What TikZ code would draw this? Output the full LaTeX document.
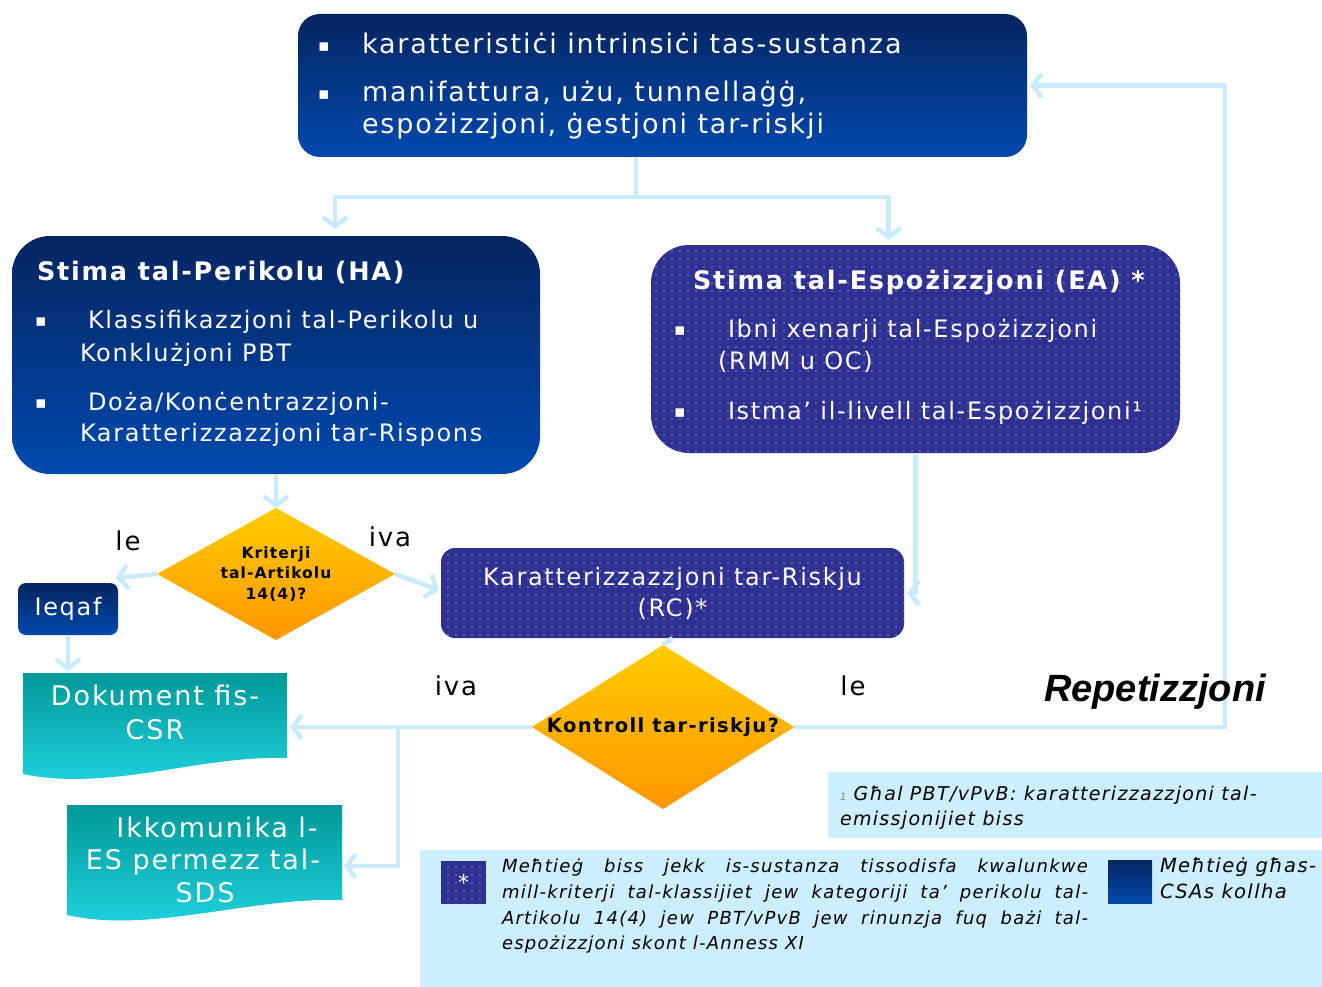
\documentclass[tikz,border=0pt]{standalone}
\usepackage{fontspec}
\setmainfont{DejaVu Sans}[LetterSpace=7]
\newfontfamily\repfont{Liberation Sans}
\usetikzlibrary{shapes.geometric,arrows.meta,patterns.meta,calc}
\definecolor{navyTop}{HTML}{062560}
\definecolor{navyBot}{HTML}{0049AE}
\definecolor{indigo}{HTML}{2E3192}
\definecolor{dotc}{HTML}{8C8FD0}
\definecolor{yel}{HTML}{FFCC00}
\definecolor{ora}{HTML}{FF9600}
\definecolor{tealTop}{HTML}{009898}
\definecolor{tealBot}{HTML}{22D6E2}
\definecolor{lblue}{HTML}{C8EBFF}
\definecolor{note}{HTML}{CCEEFF}
\pgfdeclarepattern{
  name=sparsedots,
  type=uncolored,
  bottom left={\pgfpoint{-1pt}{-1pt}},
  top right={\pgfpoint{7pt}{7pt}},
  tile size={\pgfpoint{8pt}{8pt}},
  code={\pgfpathcircle{\pgfpoint{0pt}{0pt}}{0.8pt}\pgfusepath{fill}}
}
\tikzset{
  every node/.style={inner sep=0pt, outer sep=0pt},
  navybox/.style={top color=navyTop, bottom color=navyBot, draw=none},
  dotbox/.style={preaction={fill=indigo}, pattern=sparsedots, pattern color=dotc},
  decision/.style={diamond, top color=yel, bottom color=ora, draw=none, align=center},
  conn/.style={draw=lblue, line width=4.5pt},
  arr/.style={conn, -{Straight Barb[length=9pt,width=24pt]}},
  wt/.style={text=white, anchor=base west},
  wtc/.style={text=white, anchor=base},
  big/.style={font=\fontsize{27}{32}\selectfont},
  body/.style={font=\fontsize{24}{29}\selectfont},
  bodyb/.style={font=\bfseries\fontsize{25.5}{29}\selectfont},
  bul/.style={text=white, anchor=base west, font=\fontsize{17}{20}\selectfont},
  lbl/.style={font=\fontsize{26}{30}\selectfont, text=black},
  small/.style={font=\itshape\fontsize{18}{22}\selectfont, text=black, anchor=base west},
  smallb/.style={font=\itshape\fontsize{19.5}{22}\selectfont, text=black, anchor=base west},
}
\begin{document}
\begin{tikzpicture}[x=1pt,y=-1pt]
\useasboundingbox (0,0) rectangle (1322,987);
\fill[white] (0,0) rectangle (1322,987);

% boxes
\node[navybox, rounded corners=22pt, minimum width=729pt, minimum height=143pt] (top) at (662.5,85.5) {};
\node[navybox, rounded corners=38pt, minimum width=528pt, minimum height=238pt] (ha) at (276,355) {};
\node[dotbox, rounded corners=38pt, minimum width=529pt, minimum height=208pt] (ea) at (915.5,349) {};
\node[decision, aspect=1.8, minimum width=238pt, minimum height=132pt,
  font=\bfseries\fontsize{15.5}{20.5}\selectfont] (d1) at (276,574) {Kriterji\\tal-Artikolu\\14(4)?};
\node[navybox, rounded corners=8pt, minimum width=100pt, minimum height=52pt, text=white, body] (ieqaf) at (68,609) {Ieqaf};
\node[dotbox, rounded corners=14pt, minimum width=463pt, minimum height=90pt, text=white, align=center,
  font=\fontsize{24}{31}\selectfont] (rc) at (672.5,593) {Karatterizzazzjoni tar-Riskju\\(RC)*};
\node[decision, aspect=1.6, minimum width=260pt, minimum height=162pt,
  font=\bfseries\fontsize{19.5}{22}\selectfont] (d2) at (663,727) {Kontroll tar-riskju?};

% document shapes
\shade[top color=tealTop, bottom color=tealBot] (23,673) -- (287,673) -- (287,758)
  .. controls (200,755) and (110,792) .. (23,774) -- cycle;
\node[minimum width=264pt, minimum height=85pt] (dok) at (155,715.5) {};
\shade[top color=tealTop, bottom color=tealBot] (67,805) -- (342,805) -- (342,900)
  .. controls (250,897) and (150,934) .. (67,915) -- cycle;
\node[minimum width=275pt, minimum height=122pt] (ikk) at (204.5,866) {};

% notes
\node[fill=note, minimum width=494pt, minimum height=66pt] (n1) at (1075,805) {};
\node[fill=note, minimum width=902pt, minimum height=137pt] (n2) at (871,918.5) {};
\node[dotbox, minimum width=45pt, minimum height=43pt, text=white, font=\fontsize{22}{22}\selectfont] (lsq) at (463.5,882.5) {*};
\node[navybox, minimum width=44pt, minimum height=43pt] (lnv) at (1130,881.5) {};

% connectors
\coordinate (j) at (636,197);
\draw[conn] (top.south -| j) -- (j);
\draw[arr] (j) -| ($(ha.north)+(59,-7)$);
\draw[arr] (j) -| ($(ea.north)+(-27,-5)$);
\draw[arr] (ha.south) -- (d1.north);
\draw[arr] (d1.west) -- ($(ieqaf.north east)+(-2,-5)$);
\draw[arr] (d1.east) -- ($(rc.west)+(-2,-3)$);
\draw[arr] (ieqaf.south) -- ($(ieqaf.south |- dok.north)+(0,-2)$);
\draw[arr] (ea.south) |- ($(rc.east)+(3,0)$);
\draw[conn] (rc.south) -- (d2.north);
\coordinate (k) at (398,727);
\draw[arr] (d2.west) -- ($(dok.east |- d2.west)+(3,0)$);
\draw[arr] (k) |- ($(ikk.east)+(2,0)$);
\coordinate (rp) at (1225,727);
\draw[arr] (d2.east) -- (rp) |- ($(top.east)+(3,0)$);

% top text
\node[bul] (b1) at (318,52) {▪};
\node[wt, big] (t1) at (362,54) {karatteristiċi intrinsiċi tas-sustanza};
\node[bul] (b2) at (318,100) {▪};
\node[wt, big] (t2) at (362,102) {manifattura, użu, tunnellaġġ,};
\node[wt, big] (t3) at (362,134) {espożizzjoni, ġestjoni tar-riskji};

% HA text
\node[wt, bodyb] (hat) at (37,280) {Stima tal-Perikolu (HA)};
\node[bul] (hb1) at (35,326) {▪};
\node[wt, body] (ha1) at (88,328) {Klassifikazzjoni tal-Perikolu u};
\node[wt, body] (ha2) at (80,361) {Konklużjoni PBT};
\node[bul] (hb2) at (35,408) {▪};
\node[wt, body] (ha3) at (88,410) {Doża/Konċentrazzjoni-};
\node[wt, body] (ha4) at (80,441) {Karatterizzazzjoni tar-Rispons};

% EA text
\node[wt, bodyb] (eat) at (693,289) {Stima tal-Espożizzjoni (EA) *};
\node[bul] (eb1) at (674,335) {▪};
\node[wt, body] (ea1) at (728,337) {Ibni xenarji tal-Espożizzjoni};
\node[wt, body] (ea2) at (718,369) {(RMM u OC)};
\node[bul] (eb2) at (674,417) {▪};
\node[wt, body] (ea3) at (728,419) {Istma’ il-livell tal-Espożizzjoni¹};

% document texts
\node[wtc, big] (dk1) at (155,705) {Dokument fis-};
\node[wtc, big] (dk2) at (155,739) {CSR};
\node[wtc, big] (ik1) at (217,837) {Ikkomunika l-};
\node[wtc, big] (ik2) at (203,869) {ES permezz tal-};
\node[wtc, big] (ik3) at (205,902) {SDS};

% labels
\node[lbl] (le1) at (128,541) {le};
\node[lbl] (iva1) at (390,537) {iva};
\node[lbl] (iva2) at (456,686) {iva};
\node[lbl] (le2) at (853,686) {le};
\node[font=\repfont\bfseries\itshape\fontsize{38}{44}\selectfont] (rep) at (1155,692) {Repetizzjoni};

% note texts
\node[smallb, font=\itshape\fontsize{19}{22}\selectfont] (f1) at (840,800) {{\fontsize{10}{10}\selectfont\color{gray}1} Għal PBT/vPvB: karatterizzazzjoni tal-};
\node[smallb, font=\itshape\fontsize{19}{22}\selectfont] (f2) at (840,825) {emissjonijiet biss};
\node[small] (g1) at (502,872) {\makebox[586pt][s]{Meħtieġ biss jekk is-sustanza tissodisfa kwalunkwe}};
\node[small] (g2) at (502,898) {\makebox[586pt][s]{mill-kriterji tal-klassijiet jew kategoriji ta’ perikolu tal-}};
\node[small] (g3) at (502,924) {\makebox[586pt][s]{Artikolu 14(4) jew PBT/vPvB jew rinunzja fuq bażi tal-}};
\node[small] (g4) at (502,949) {espożizzjoni skont l-Anness XI};
\node[smallb] (c1) at (1160,872) {Meħtieġ għas-};
\node[smallb] (c2) at (1160,898) {CSAs kollha};
\end{tikzpicture}
\end{document}
